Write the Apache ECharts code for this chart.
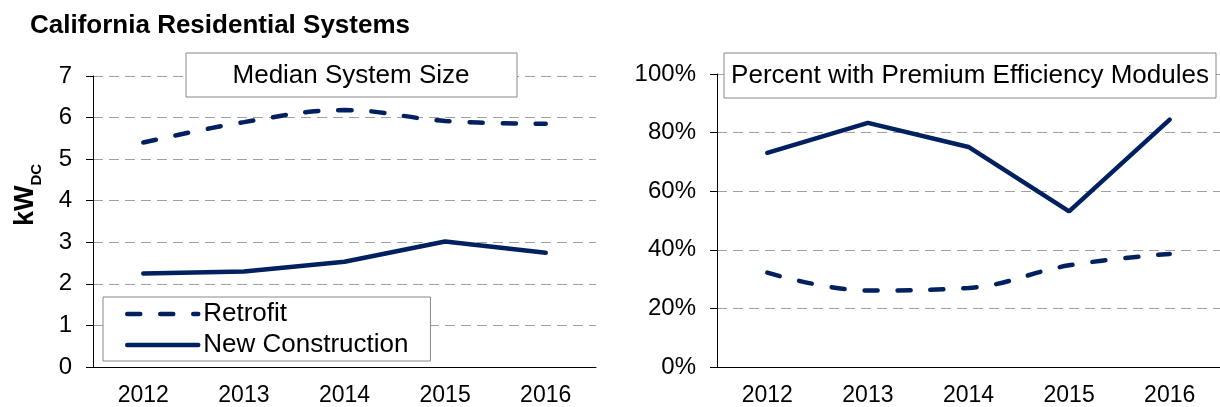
<!DOCTYPE html>
<html>
<head>
<meta charset="utf-8">
<script src="https://cdn.jsdelivr.net/npm/echarts@6/dist/echarts.min.js"></script>
<style>
  html, body { margin: 0; padding: 0; background: #fff; }
  #chart { width: 1220px; height: 407px; }
</style>
</head>
<body>
<div id="chart"></div>
<script>
// data
var years = ['2012', '2013', '2014', '2015', '2016'];
var sizeRetrofit = [5.40, 5.89, 6.18, 5.92, 5.85];
var sizeNewCon = [2.25, 2.30, 2.53, 3.02, 2.75];
var premRetrofit = [32.2, 26.1, 27.0, 34.7, 38.6];
var premNewCon = [73.1, 83.3, 75.1, 53.1, 84.4];

var navy = '#002060';
var font = 'Liberation Sans, Arial, sans-serif';

function xAxis(gridIndex) {
	return {
		type: 'category',
		gridIndex: gridIndex,
		data: years,
		boundaryGap: true,
		axisLine: { lineStyle: { color: '#000', width: 1 } },
		axisTick: { length: 7, lineStyle: { color: '#000' } },
		axisLabel: { color: '#000', fontSize: 23, fontFamily: font, margin: 17 }
	};
}

function yAxis(gridIndex, max, interval, fmt) {
	return {
		type: 'value',
		gridIndex: gridIndex,
		min: 0,
		max: max,
		interval: interval,
		axisLine: { show: true, lineStyle: { color: '#000', width: 1 } },
		axisTick: { show: true, length: 7, lineStyle: { color: '#000' } },
		axisLabel: { color: '#000', fontSize: 24, fontFamily: font, margin: 21, formatter: fmt },
		splitLine: { lineStyle: { color: '#a0a0a0', type: [10, 6], width: 1 } }
	};
}

function dashed(name, data, idx) {
	return {
		name: name,
		type: 'line',
		xAxisIndex: idx,
		yAxisIndex: idx,
		data: data,
		smooth: 0.4,
		symbol: 'none',
		lineStyle: { color: navy, width: 4.5, type: [13, 20], cap: 'round' },
		itemStyle: { color: navy }
	};
}

function solid(name, data, idx) {
	return {
		name: name,
		type: 'line',
		xAxisIndex: idx,
		yAxisIndex: idx,
		data: data,
		symbol: 'none',
		lineStyle: { color: navy, width: 4.5, cap: 'round' },
		itemStyle: { color: navy }
	};
}

var chart = echarts.init(document.getElementById('chart'), null, { renderer: 'canvas' });

chart.setOption({
	backgroundColor: '#fff',
	animation: false,
	textStyle: { fontFamily: font },
	title: {
		text: 'California Residential Systems',
		left: 25,
		top: 8,
		textStyle: { fontSize: 26, fontWeight: 'bold', color: '#000', fontFamily: font }
	},
	grid: [
		{ left: 93, top: 76, width: 503, height: 293 },
		{ left: 717, top: 74, width: 514, height: 295 }
	],
	xAxis: [xAxis(0), xAxis(1)],
	yAxis: [yAxis(0, 7, 1), yAxis(1, 100, 20, '{value}%')],
	legend: {
		orient: 'vertical',
		left: 103,
		top: 297,
		padding: [4, 22, 3, 22],
		itemWidth: 71,
		itemHeight: 14,
		itemGap: 5,
		borderColor: '#888',
		borderWidth: 1,
		backgroundColor: '#fff',
		selectedMode: false,
		itemStyle: { opacity: 0 },
		lineStyle: { width: 4.5, color: navy },
		textStyle: { fontSize: 26, color: '#000', fontFamily: font },
		data: ['Retrofit', 'New Construction']
	},
	series: [
		dashed('Retrofit', sizeRetrofit, 0),
		solid('New Construction', sizeNewCon, 0),
		dashed('Retrofit', premRetrofit, 1),
		solid('New Construction', premNewCon, 1)
	],
	graphic: [
		{
			type: 'rect', z: 10,
			shape: { x: 186, y: 53, width: 331, height: 44 },
			style: { fill: '#fff', stroke: '#888', lineWidth: 1 }
		},
		{
			type: 'text', z: 11, x: 351, y: 76,
			style: { text: 'Median System Size', fontSize: 26, fontFamily: font, fill: '#000', textAlign: 'center', textVerticalAlign: 'middle' }
		},
		{
			type: 'rect', z: 10,
			shape: { x: 724, y: 53, width: 492, height: 45 },
			style: { fill: '#fff', stroke: '#888', lineWidth: 1 }
		},
		{
			type: 'text', z: 11, x: 970, y: 76,
			style: { text: 'Percent with Premium Efficiency Modules', fontSize: 26, fontFamily: font, fill: '#000', textAlign: 'center', textVerticalAlign: 'middle' }
		},
		{
			type: 'text', z: 11, x: 26, y: 195, rotation: Math.PI / 2,
			style: {
				text: '{a|kW}{b|DC}',
				textAlign: 'center',
				textVerticalAlign: 'middle',
				rich: {
					a: { fontSize: 27, fontWeight: 'bold', fontFamily: font, fill: '#000', color: '#000', lineHeight: 36, verticalAlign: 'middle' },
					b: { fontSize: 15, fontWeight: 'bold', fontFamily: font, fill: '#000', color: '#000', lineHeight: 36, verticalAlign: 'bottom' }
				}
			}
		}
	]
});
</script>
</body>
</html>
